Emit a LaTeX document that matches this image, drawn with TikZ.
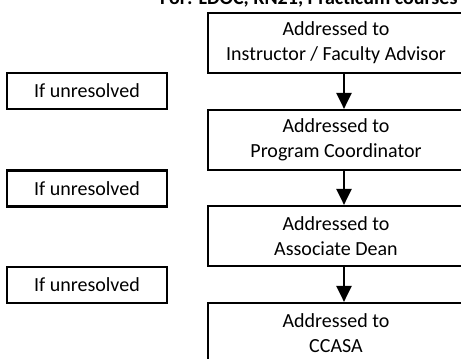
\documentclass[tikz,border=0pt]{standalone}
\usepackage{fontspec}
\setmainfont{Carlito}
\usetikzlibrary{arrows.meta}

\begin{document}
\begin{tikzpicture}[x=1pt, y=1pt]
	\tikzstyle{every node}=[font=\fontsize{20}{25}\selectfont, align=center, inner sep=0pt];
	\tikzstyle{office}=[draw, line width=2.2pt, minimum width=256pt, minimum height=60pt];
	\tikzstyle{fallback}=[draw, line width=2.2pt, minimum width=160pt, minimum height=36pt];
	\tikzstyle{flow}=[line width=2.2pt, -{Triangle[width=15pt, length=16pt]}];
	\useasboundingbox (0,0) rectangle (461,-359);
	\clip (0,0) rectangle (461,-359);
	\node [anchor=base west, font=\fontsize{20}{25}\selectfont\bfseries] (title) at (160,-4) {For: LDOC, RN21, Practicum courses};
	\node [office] (advisor) at (336,-43) {Addressed to\\Instructor / Faculty Advisor};
	\node [office] (coordinator) at (336,-140) {Addressed to\\Program Coordinator};
	\node [office] (dean) at (336,-236) {Addressed to\\Associate Dean};
	\node [office] (ccasa) at (336,-333) {Addressed to\\CCASA};
	\node [fallback] (unresolvedA) at (87,-91) {If unresolved};
	\node [fallback] (unresolvedB) at (87,-188.5) {If unresolved};
	\node [fallback] (unresolvedC) at (87,-285) {If unresolved};
	\draw [flow] ([xshift=8pt]advisor.south) -- ([xshift=8pt]coordinator.north);
	\draw [flow] ([xshift=8pt]coordinator.south) -- ([xshift=8pt]dean.north);
	\draw [flow] ([xshift=8pt]dean.south) -- ([xshift=8pt]ccasa.north);
\end{tikzpicture}
\end{document}
